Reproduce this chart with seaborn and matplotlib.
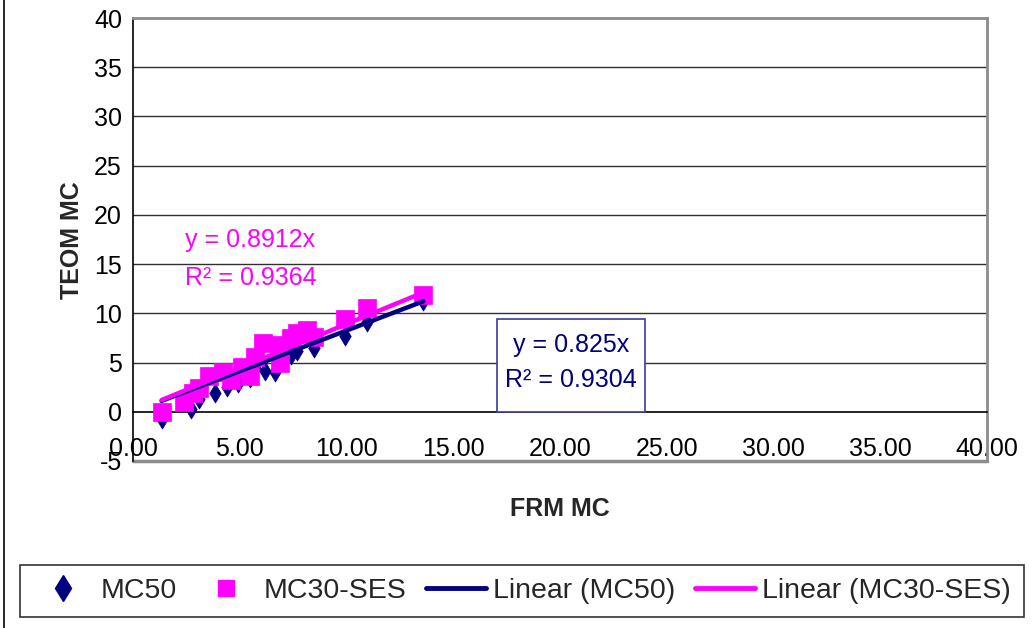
import matplotlib
matplotlib.use("Agg")
import matplotlib.pyplot as plt
from matplotlib.lines import Line2D
from matplotlib.patches import Rectangle
import numpy as np
import pandas as pd
import seaborn as sns

# FRM vs TEOM mass concentrations
mc50_frm = [1.34, 2.70, 3.10, 3.85, 4.40, 4.90, 5.50, 5.70, 6.20, 6.65, 7.40, 7.70, 8.50, 9.95, 10.95, 13.60]
mc50_teom = [-0.7, 0.3, 1.3, 1.9, 2.5, 2.9, 3.4, 4.4, 4.1, 4.0, 5.8, 6.2, 6.5, 7.7, 9.1, 11.3]

mc30_frm = [1.34, 2.40, 2.80, 3.10, 3.55, 4.20, 4.60, 5.10, 5.50, 5.70, 6.10, 6.85, 6.90, 7.40, 7.70, 8.15, 8.50, 9.95, 10.95, 13.60]
mc30_teom = [0.0, 1.0, 1.9, 2.4, 3.6, 4.0, 3.2, 4.5, 3.6, 5.6, 7.0, 6.8, 5.0, 7.5, 8.0, 8.3, 7.6, 9.4, 10.5, 11.9]

# Zero-intercept linear fits
mc50_slope = 0.825
mc50_r2 = 0.9304
mc30_slope = 0.8912
mc30_r2 = 0.9364

series_names = ["MC50", "MC30-SES", "Linear (MC50)", "Linear (MC30-SES)"]
x_ticks = [0, 5, 10, 15, 20, 25, 30, 35, 40]
y_ticks = [-5, 0, 5, 10, 15, 20, 25, 30, 35, 40]

NAVY = "#000080"
MAGENTA = "#FF00FF"
GRID = "#303030"
BORDER = "#8C8C8C"

sns.set_theme(style="white")
plt.rcParams["font.family"] = ["Liberation Sans", "DejaVu Sans"]

fig = plt.figure(figsize=(10.34, 6.28), dpi=100)
W, H = 1034, 628
ax = fig.add_axes([133 / W, 1 - 461 / H, 854 / W, 443 / H])

df50 = pd.DataFrame({"FRM": mc50_frm, "TEOM": mc50_teom})
df30 = pd.DataFrame({"FRM": mc30_frm, "TEOM": mc30_teom})

sns.scatterplot(data=df50, x="FRM", y="TEOM", ax=ax, marker="d", s=95,
                color=NAVY, edgecolor=NAVY, linewidth=0.5, zorder=3)
sns.scatterplot(data=df30, x="FRM", y="TEOM", ax=ax, marker="s", s=150,
                color=MAGENTA, edgecolor=MAGENTA, linewidth=0.5, zorder=4)

fit50_x = np.array([min(mc50_frm), max(mc50_frm)])
fit30_x = np.array([min(mc30_frm), max(mc30_frm)])
sns.lineplot(x=fit50_x, y=mc50_slope * fit50_x, ax=ax, color=NAVY, lw=3.2, zorder=5)
sns.lineplot(x=fit30_x, y=mc30_slope * fit30_x, ax=ax, color=MAGENTA, lw=3.2, zorder=6)

ax.set_xlim(0, 40)
ax.set_ylim(-5, 40)
ax.set_xticks(x_ticks)
ax.set_xticklabels([f"{v:.2f}" for v in x_ticks])
ax.set_yticks(y_ticks)
ax.set_yticklabels([str(v) for v in y_ticks])

# horizontal gridlines
for v in y_ticks[2:-1]:
    ax.axhline(v, color=GRID, lw=1.0, zorder=1)

# plot-area border: grey top, right and bottom
for side in ("top", "right"):
    ax.spines[side].set_color(BORDER)
    ax.spines[side].set_linewidth(2)
ax.axhline(-5, color=BORDER, lw=2.5, zorder=1, clip_on=False)
ax.spines["left"].set_color("black")
ax.spines["left"].set_linewidth(1.2)
ax.spines["left"].set_zorder(2)
ax.spines["bottom"].set_position(("data", 0))
ax.spines["bottom"].set_color("black")
ax.spines["bottom"].set_linewidth(1.2)

ax.tick_params(axis="both", direction="out", length=6, width=1.2, color="black",
               labelsize=18, labelcolor="black")
ax.tick_params(axis="x", pad=12)
ax.tick_params(axis="y", pad=2)

ax.set_xlabel("")
ax.set_ylabel("")
fig.text(560 / W, 1 - 509 / H, "FRM MC", ha="center", va="center",
         fontsize=18, fontweight="bold")
fig.text(72 / W, 1 - 240 / H, "TEOM MC", ha="center", va="center",
         rotation=90, fontsize=18, fontweight="bold")

# trendline equations
ax.text(5.5, 17.4, f"y = {mc30_slope:.4f}x", color=MAGENTA, fontsize=18,
        ha="center", va="center", zorder=7)
ax.text(5.5, 13.6, f"R² = {mc30_r2:.4f}", color=MAGENTA, fontsize=18,
        ha="center", va="center", zorder=7)

ax.add_patch(Rectangle((17.05, 0), 6.93, 9.45, fill=True, facecolor="white",
                       edgecolor="#3A3AA0", lw=1.2, zorder=7))
ax.text(20.5, 6.8, f"y = {mc50_slope:g}x", color=NAVY, fontsize=18,
        ha="center", va="center", zorder=8)
ax.text(20.5, 3.2, f"R² = {mc50_r2:.4f}", color=NAVY, fontsize=18,
        ha="center", va="center", zorder=8)

handles = [
    Line2D([], [], marker="d", ls="none", color=NAVY, markersize=13),
    Line2D([], [], marker="s", ls="none", color=MAGENTA, markersize=12),
    Line2D([], [], color=NAVY, lw=3.5),
    Line2D([], [], color=MAGENTA, lw=3.5),
]
leg = fig.legend(handles, series_names, ncol=4, loc="center",
                 bbox_to_anchor=(522 / W, 1 - 591 / H), borderaxespad=0,
                 fontsize=20.5, handlelength=2.1, handletextpad=0.25,
                 columnspacing=0.7, borderpad=0.45, frameon=True,
                 fancybox=False, edgecolor="black")
leg.get_frame().set_linewidth(1.2)

fig.add_artist(Line2D([4 / W, 4 / W], [0, 1], transform=fig.transFigure,
                      color="black", lw=1.2))

fig.savefig("out.png", dpi=100, facecolor="white")
